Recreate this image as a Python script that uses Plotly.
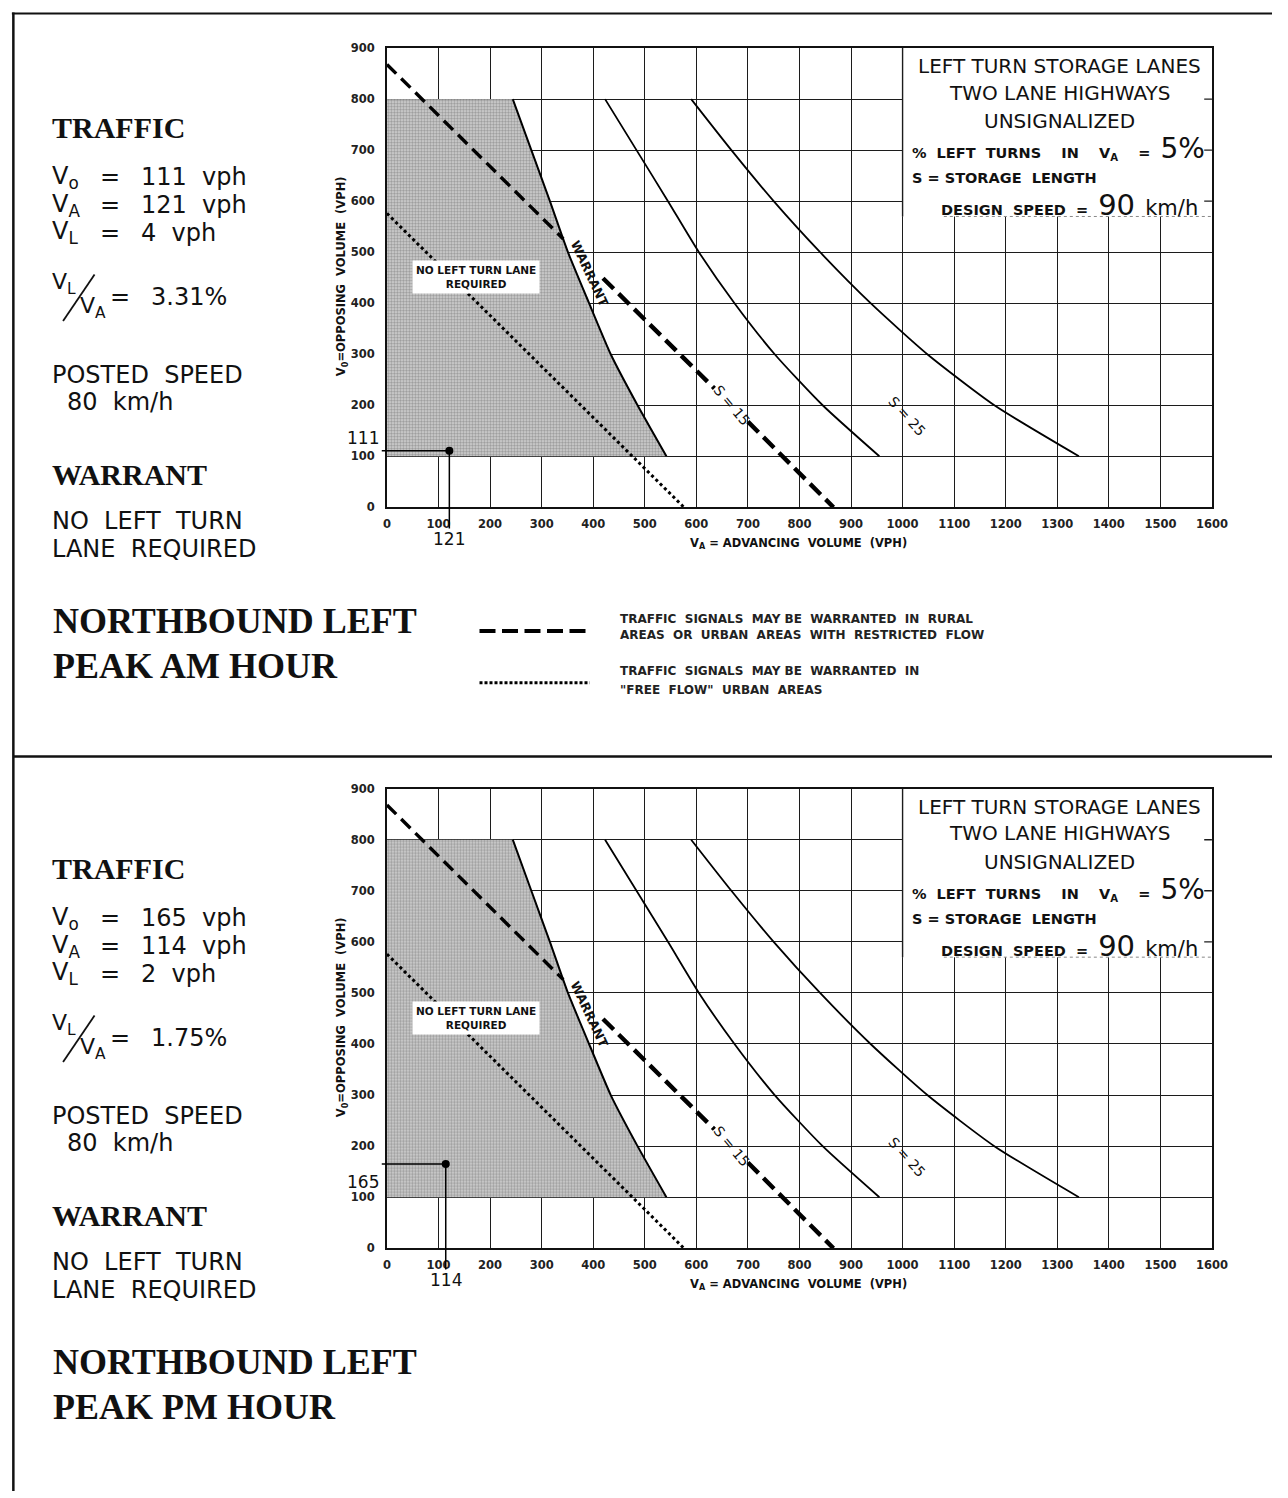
import plotly.graph_objects as go

W, H = 1288, 1498

# ---- warrant chart curves (V_A = advancing volume, V_O = opposing volume, vph) ----
warrant_va = [244, 280, 316, 351, 392, 434, 486, 542]
warrant_vo = [800, 700, 600, 500, 400, 300, 200, 100]
storage_mid_va = [423, 484, 545, 605, 674, 752, 845, 955]
storage_mid_vo = [800, 700, 600, 500, 400, 300, 200, 100]
storage_outer_va = [590, 668, 750, 840, 938, 1048, 1178, 1342]
storage_outer_vo = [800, 700, 600, 500, 400, 300, 200, 100]
rural_inner_va = [0, 342]
rural_inner_vo = [868, 526]
rural_outer_va = [419, 635, None, 700, 866]
rural_outer_vo = [449, 233, None, 168, 0]
freeflow_va = [0, 576]
freeflow_vo = [576, 0]
shade_va = [0] + warrant_va + [0]
shade_vo = [800] + warrant_vo + [100]

x_ticks = list(range(0, 1700, 100))
y_ticks = list(range(0, 1000, 100))

# ---- counted traffic for each peak hour ----
periods = ["AM", "PM"]
vo_counts = [111, 165]
va_counts = [121, 114]
vl_counts = [4, 2]
posted_speed = 80

SANS = "DejaVu Sans"
SERIF = "Liberation Serif"
NB = "\u00a0"


def px(x):
    return x / W


def py(y):
    return 1 - y / H


def sp(text):
    """Keep doubled word gaps by turning them into non-breaking spaces."""
    return text.replace("  ", NB + NB)


fig = go.Figure()
annotations = []
shapes = []
PANEL_STEP = 748

for i, period in enumerate(periods):
    off = PANEL_STEP * i
    xr = "x" if i == 0 else "x2"
    yr = "y" if i == 0 else "y2"
    vo, va, vl = vo_counts[i], va_counts[i], vl_counts[i]

    fig.add_trace(go.Scatter(
        x=shade_va, y=shade_vo, xaxis=xr, yaxis=yr, mode="none", fill="toself",
        fillcolor="#cdcdcd",
        fillpattern=dict(shape=".", fgcolor="#666666", bgcolor="#d2d2d2", size=3, solidity=0.5),
        hoverinfo="skip", showlegend=False))
    fig.add_trace(go.Scatter(
        x=freeflow_va, y=freeflow_vo, xaxis=xr, yaxis=yr, mode="lines",
        line=dict(color="black", width=3, dash="3px,3px"), hoverinfo="skip", showlegend=False))
    fig.add_trace(go.Scatter(
        x=rural_inner_va, y=rural_inner_vo, xaxis=xr, yaxis=yr, mode="lines",
        line=dict(color="black", width=3.4, dash="13px,7px"), hoverinfo="skip", showlegend=False))
    fig.add_trace(go.Scatter(
        x=rural_outer_va, y=rural_outer_vo, xaxis=xr, yaxis=yr, mode="lines",
        line=dict(color="black", width=4.4, dash="15px,7px"), connectgaps=False,
        hoverinfo="skip", showlegend=False))
    fig.add_trace(go.Scatter(
        x=warrant_va, y=warrant_vo, xaxis=xr, yaxis=yr, mode="lines",
        line=dict(color="black", width=2, shape="spline", smoothing=0.5),
        hoverinfo="skip", showlegend=False))
    fig.add_trace(go.Scatter(
        x=storage_mid_va, y=storage_mid_vo, xaxis=xr, yaxis=yr, mode="lines",
        line=dict(color="black", width=1.8, shape="spline", smoothing=0.6),
        hoverinfo="skip", showlegend=False))
    fig.add_trace(go.Scatter(
        x=storage_outer_va, y=storage_outer_vo, xaxis=xr, yaxis=yr, mode="lines",
        line=dict(color="black", width=1.8, shape="spline", smoothing=0.6),
        hoverinfo="skip", showlegend=False))
    fig.add_trace(go.Scatter(
        x=[va], y=[vo], xaxis=xr, yaxis=yr, mode="markers",
        marker=dict(color="black", size=8), hoverinfo="skip", showlegend=False))

    # white title block in the upper right of the grid
    shapes += [
        dict(type="rect", xref=xr, yref=yr, x0=1000, x1=1600, y0=570, y1=900,
             fillcolor="white", line=dict(width=0), layer="between"),
        dict(type="line", xref=xr, yref=yr, x0=1000, x1=1000, y0=570, y1=900,
             line=dict(color="#1c1c1c", width=1.4), layer="between"),
        dict(type="line", xref=xr, yref=yr, x0=1080, x1=1600, y0=570, y1=570,
             line=dict(color="#888", width=1, dash="dot"), layer="between"),
    ]
    for yv in (600, 700, 800):
        shapes.append(dict(type="line", xref=xr, yref=yr, x0=1585, x1=1600, y0=yv, y1=yv,
                           line=dict(color="#1c1c1c", width=1.4), layer="between"))

    # leader lines and values for the counted point
    annotations += [
        dict(x=va, y=vo, xref=xr, yref=yr, ax=-13, ay=vo, axref=xr, ayref=yr,
             text=" ", font=dict(size=1), showarrow=True, arrowhead=0, arrowwidth=1.5,
             arrowcolor="black", standoff=0, startstandoff=0),
        dict(x=va, y=vo, xref=xr, yref=yr, ax=va, ay=-62, axref=xr, ayref=yr,
             text=str(va), font=dict(family=SANS, size=17, color="#111"), showarrow=True,
             arrowhead=0, arrowwidth=1.5, arrowcolor="black", standoff=0, borderpad=0),
        dict(x=0, y=vo, xref=xr, yref=yr, text=str(vo), showarrow=False,
             xanchor="right", yanchor=("bottom" if i == 0 else "top"),
             xshift=-6, yshift=(1 if i == 0 else -6),
             font=dict(family=SANS, size=17, color="#111")),
    ]

    # labels inside the chart
    annotations += [
        dict(x=172, y=451, xref=xr, yref=yr, text="NO LEFT TURN LANE<br>REQUIRED",
             showarrow=False, bgcolor="white", borderpad=3,
             font=dict(family=SANS, size=10.5, color="#111", weight="bold")),
        dict(x=393, y=458, xref=xr, yref=yr, text="WARRANT", textangle=65, showarrow=False,
             font=dict(family=SANS, size=12.5, color="#111", weight="bold")),
        dict(x=668, y=200, xref=xr, yref=yr, text="S = 15", textangle=50, showarrow=False,
             font=dict(family=SANS, size=14, color="#111")),
        dict(x=1008, y=178, xref=xr, yref=yr, text="S = 25", textangle=48, showarrow=False,
             font=dict(family=SANS, size=14, color="#111")),
    ]
    box_big = dict(family=SANS, size=20, color="#111")
    box_small = dict(family=SANS, size=14.5, color="#111", weight="bold")
    annotations += [
        dict(x=1305, y=864, xref=xr, yref=yr, text="LEFT TURN STORAGE LANES", showarrow=False, font=box_big),
        dict(x=1305, y=813, xref=xr, yref=yr, text="TWO LANE HIGHWAYS", showarrow=False, font=box_big),
        dict(x=1305, y=757, xref=xr, yref=yr, text="UNSIGNALIZED", showarrow=False, font=box_big),
        dict(x=1014, y=703, xref=xr, yref=yr, xanchor="left", yanchor="middle", showarrow=False,
             font=box_small,
             text=sp("%  LEFT  TURNS    IN    V<sub>A</sub>    =  ")
                  + "<span style='font-size:28px;font-weight:normal'>5%</span>"),
        dict(x=1014, y=645, xref=xr, yref=yr, xanchor="left", yanchor="middle", showarrow=False,
             font=box_small, text=sp("S = STORAGE  LENGTH")),
        dict(x=1070, y=592, xref=xr, yref=yr, xanchor="left", yanchor="middle", showarrow=False,
             font=box_small,
             text=sp("DESIGN  SPEED  =  ")
                  + "<span style='font-size:29px;font-weight:normal'>90</span>"
                  + NB + NB + "<span style='font-size:21px;font-weight:normal'>km/h</span>"),
    ]

    # axis titles
    annotations += [
        dict(x=px(343), y=py(272 + off), xref="paper", yref="paper", textangle=-90,
             xanchor="center", yanchor="middle", showarrow=False,
             text=sp("V<sub>0</sub>=OPPOSING  VOLUME  (VPH)"),
             font=dict(family=SANS, size=11.5, color="#111", weight="bold")),
        dict(x=px(807), y=py(542 + off), xref="paper", yref="paper",
             xanchor="center", yanchor="middle", showarrow=False,
             text=sp("V<sub>A</sub> = ADVANCING  VOLUME  (VPH)"),
             font=dict(family=SANS, size=11.5, color="#111", weight="bold")),
    ]

    # traffic summary on the left
    big = dict(family=SANS, size=24, color="#111")
    head = dict(family=SERIF, size=30, color="#111", weight="bold")

    def left(xp, yp, text, font):
        annotations.append(dict(x=px(xp), y=py(yp + off), xref="paper", yref="paper",
                                xanchor="left", yanchor="middle", text=text, font=font,
                                showarrow=False))

    left(47, 122, "TRAFFIC", head)
    for row, (sym, val) in enumerate([("o", vo), ("A", va), ("L", vl)]):
        yy = 172 + 28 * row
        left(47, yy, f"V<sub>{sym}</sub>", big)
        left(95, yy, "=", big)
        left(137, yy, sp(f"{val}  vph"), big)
    ratio = f"{vl / va * 100:.2f}%"
    left(47, 279, "V<sub>L</sub>", dict(family=SANS, size=22, color="#111"))
    left(75, 303, "V<sub>A</sub>", dict(family=SANS, size=22, color="#111"))
    shapes.append(dict(type="line", xref="paper", yref="paper", x0=px(60), x1=px(92),
                       y0=py(317 + off), y1=py(270 + off), line=dict(color="#111", width=1.8)))
    left(106, 293, "=", big)
    left(147, 293, ratio, big)
    left(47, 371, sp("POSTED  SPEED"), big)
    left(62, 399, sp(f"{posted_speed}  km/h"), big)
    left(47, 472, "WARRANT", head)
    left(47, 519, sp("NO  LEFT  TURN"), big)
    left(47, 547, sp("LANE  REQUIRED"), big)
    title_font = dict(family=SERIF, size=36, color="#111", weight="bold")
    left(48, 620, "NORTHBOUND LEFT", title_font)
    left(48, 665, f"PEAK {period} HOUR", title_font)

# legend for the signal-warrant lines (first panel only)
legend_font = dict(family=SANS, size=12, color="#222", weight="bold")
shapes += [
    dict(type="line", xref="paper", yref="paper", x0=px(483), x1=px(595), y0=py(630), y1=py(630),
         line=dict(color="black", width=4, dash="16px,6.5px")),
    dict(type="line", xref="paper", yref="paper", x0=px(483), x1=px(595), y0=py(682), y1=py(682),
         line=dict(color="black", width=3, dash="3px,2px")),
]
for yy, txt in [(618, "TRAFFIC  SIGNALS  MAY BE  WARRANTED  IN  RURAL"),
                (634, "AREAS  OR  URBAN  AREAS  WITH  RESTRICTED  FLOW"),
                (670, "TRAFFIC  SIGNALS  MAY BE  WARRANTED  IN"),
                (689, "\"FREE  FLOW\"  URBAN  AREAS")]:
    annotations.append(dict(x=px(624), y=py(yy), xref="paper", yref="paper", xanchor="left",
                            yanchor="middle", showarrow=False, font=legend_font, text=sp(txt)))

# page frame and panel divider
shapes += [
    dict(type="line", xref="paper", yref="paper", x0=px(8), x1=1, y0=py(6.5), y1=py(6.5),
         line=dict(color="#111", width=2)),
    dict(type="line", xref="paper", yref="paper", x0=px(9.5), x1=px(9.5), y0=py(5.5), y1=0,
         line=dict(color="#111", width=2.5)),
    dict(type="line", xref="paper", yref="paper", x0=px(9.5), x1=1, y0=py(756.5), y1=py(756.5),
         line=dict(color="#111", width=2.5)),
]

axis_common = dict(showgrid=True, gridcolor="#1c1c1c", gridwidth=1.4, showline=True,
                   linecolor="#111", linewidth=1.8, mirror=True, zeroline=False, ticks="",
                   tickfont=dict(family=SANS, size=11.5, color="#222", weight="bold"),
                   fixedrange=True)
x_dom = [px(389), px(1227)]
fig.update_layout(
    width=W, height=H, margin=dict(l=0, r=0, t=0, b=0),
    paper_bgcolor="white", plot_bgcolor="white", showlegend=False,
    xaxis=dict(axis_common, domain=x_dom, range=[0, 1600], tickvals=x_ticks,
               ticklabelstandoff=5, anchor="y"),
    yaxis=dict(axis_common, domain=[py(505), py(41.5)], range=[0, 900], tickvals=y_ticks,
               ticklabelstandoff=8, anchor="x"),
    xaxis2=dict(axis_common, domain=x_dom, range=[0, 1600], tickvals=x_ticks,
                ticklabelstandoff=5, anchor="y2"),
    yaxis2=dict(axis_common, domain=[py(1253), py(789)], range=[0, 900], tickvals=y_ticks,
                ticklabelstandoff=8, anchor="x2"),
    annotations=annotations, shapes=shapes,
)

# the page body gets no default margin so the figure fills the window exactly
fig.write_html("out.html",
               post_script="document.body.style.margin='0';document.body.style.padding='0';")
